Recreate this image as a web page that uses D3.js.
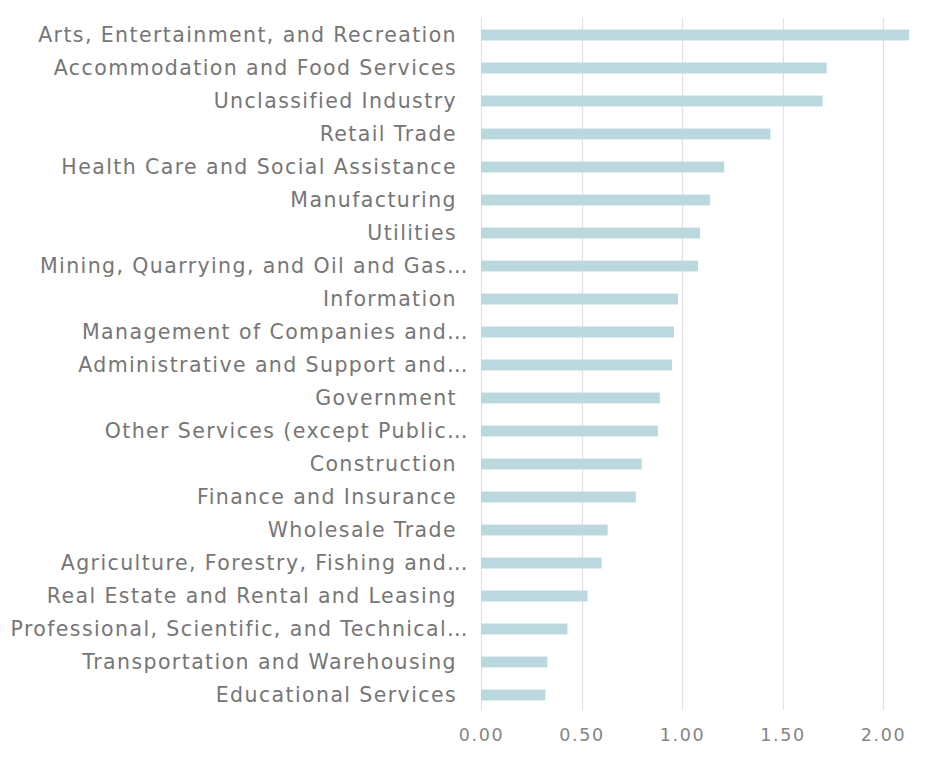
<!DOCTYPE html>
<html>
<head>
<meta charset="utf-8">
<script src="https://cdn.jsdelivr.net/npm/d3@7"></script>
<style>
  html, body { margin: 0; padding: 0; background: #fff; }
  svg { display: block; }
  text { font-family: "DejaVu Sans", "Open Sans", sans-serif; }
</style>
</head>
<body>
<svg id="chart" width="932" height="759"></svg>
<script>
// Industries, sorted from highest to lowest value
const categories = [
  "Arts, Entertainment, and Recreation",
  "Accommodation and Food Services",
  "Unclassified Industry",
  "Retail Trade",
  "Health Care and Social Assistance",
  "Manufacturing",
  "Utilities",
  "Mining, Quarrying, and Oil and Gas\u2026",
  "Information",
  "Management of Companies and\u2026",
  "Administrative and Support and\u2026",
  "Government",
  "Other Services (except Public\u2026",
  "Construction",
  "Finance and Insurance",
  "Wholesale Trade",
  "Agriculture, Forestry, Fishing and\u2026",
  "Real Estate and Rental and Leasing",
  "Professional, Scientific, and Technical\u2026",
  "Transportation and Warehousing",
  "Educational Services"
];

const values = [
  2.13, 1.72, 1.70, 1.44, 1.21, 1.14, 1.09, 1.08, 0.98, 0.96, 0.95,
  0.89, 0.88, 0.80, 0.77, 0.63, 0.60, 0.53, 0.43, 0.33, 0.32
];

const tickValues = [0, 0.5, 1.0, 1.5, 2.0];

const data = categories.map((c, i) => ({ name: c, value: values[i] }));

const svg = d3.select("#chart");

const x = d3.scaleLinear().domain([0, 2.2]).range([481, 923.2]);
const y = d3.scaleBand()
  .domain(categories)
  .range([18.5, 711.5])
  .paddingInner(0.67)
  .paddingOuter(0.335);

// vertical gridlines
svg.append("g")
  .selectAll("line")
  .data(tickValues)
  .join("line")
  .attr("x1", d => Math.round(x(d)) + 0.5)
  .attr("x2", d => Math.round(x(d)) + 0.5)
  .attr("y1", 18)
  .attr("y2", 710)
  .attr("stroke", "#e2e2e2")
  .attr("stroke-width", 1.2);

// bars
svg.append("g")
  .selectAll("rect")
  .data(data)
  .join("rect")
  .attr("x", x(0))
  .attr("y", d => y(d.name))
  .attr("width", d => x(d.value) - x(0))
  .attr("height", y.bandwidth())
  .attr("fill", "#b9d9df");

// category labels (truncated names carry an ellipsis and sit a little further right)
svg.append("g")
  .selectAll("text")
  .data(data)
  .join("text")
  .attr("x", d => d.name.endsWith("\u2026") ? 469 : 457)
  .attr("y", d => y(d.name) + y.bandwidth() / 2)
  .attr("dy", "0.33em")
  .attr("text-anchor", "end")
  .attr("fill", "#767676")
  .style("font-size", "20.5px")
  .style("letter-spacing", "1.4px")
  .text(d => d.name);

// x axis tick labels
const xAxis = d3.axisBottom(x)
  .tickValues(tickValues)
  .tickFormat(d3.format(".2f"))
  .tickSize(0)
  .tickPadding(0);

const axisG = svg.append("g")
  .attr("transform", "translate(0,729)")
  .call(xAxis);
axisG.select(".domain").remove();
axisG.selectAll("text")
  .attr("fill", "#858585")
  .style("font-family", "'DejaVu Sans', 'Open Sans', sans-serif")
  .style("font-size", "17.5px")
  .style("letter-spacing", "1.6px");
</script>
</body>
</html>
